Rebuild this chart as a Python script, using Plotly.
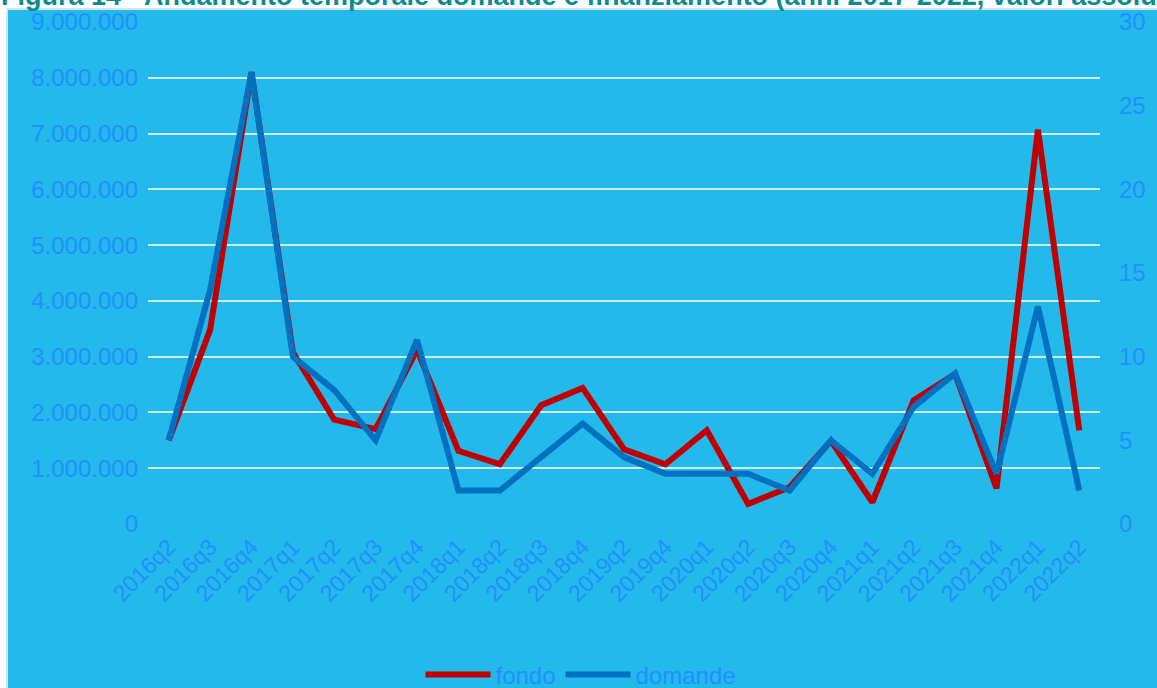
import plotly.graph_objects as go

# Quarterly periods
quarters = ["2016q2", "2016q3", "2016q4", "2017q1", "2017q2", "2017q3", "2017q4",
            "2018q1", "2018q2", "2018q3", "2018q4", "2019q2", "2019q4", "2020q1",
            "2020q2", "2020q3", "2020q4", "2021q1", "2021q2", "2021q3", "2021q4",
            "2022q1", "2022q2"]

# Funding granted (euro, left axis)
fondo = [1500000, 3480000, 8100000, 3080000, 1870000, 1700000, 3120000,
         1310000, 1070000, 2130000, 2440000, 1340000, 1070000, 1680000,
         360000, 660000, 1490000, 390000, 2220000, 2690000, 640000,
         7070000, 1680000]

# Number of applications (right axis)
domande = [5, 14, 27, 10, 8, 5, 11, 2, 2, 4, 6, 4, 3, 3, 3, 2, 5, 3, 7, 9, 3, 13, 2]

left_ticks = list(range(0, 9000001, 1000000))
right_ticks = [0, 5, 10, 15, 20, 25, 30]

title_text = ("Figura 14 - Andamento temporale domande e finanziamento "
              "(anni 2017-2022, valori assoluti)")

BG = "#23B9EB"
TICK = "#1E90FF"
GRID = "#CDEEFB"
FONT = "Liberation Sans, Arial, sans-serif"

fig = go.Figure()
fig.add_trace(go.Scatter(x=quarters, y=fondo, name="fondo", mode="lines",
                         line=dict(color="#C00000", width=6),
                         yaxis="y"))
fig.add_trace(go.Scatter(x=quarters, y=domande, name="domande", mode="lines",
                         line=dict(color="#0070C0", width=6),
                         yaxis="y2"))

# Plot area: x 148..1100, y 22..524 in a 1157x688 page
L, R, T, B = 148, 57, 22, 164
W, H = 1157 - L - R, 688 - T - B


def px(xp):
    return (xp - L) / W


def py(yp):
    return (688 - B - yp) / H


fig.update_layout(
    width=1157, height=688,
    margin=dict(l=L, r=R, t=T, b=B, autoexpand=False),
    paper_bgcolor=BG, plot_bgcolor=BG,
    separators=",.",
    font=dict(family=FONT, size=24, color=TICK),
    showlegend=True,
    legend=dict(orientation="h", x=px(581), xanchor="center",
                y=py(675), yanchor="middle",
                font=dict(size=24, color=TICK),
                bgcolor="rgba(0,0,0,0)", itemwidth=65),
    xaxis=dict(type="category", range=[-0.5, len(quarters) - 0.5],
               showgrid=False, zeroline=False, showline=False, automargin=False,
               ticks="", tickangle=-45, ticklabelstandoff=4,
               tickfont=dict(size=23, color=TICK)),
    yaxis=dict(range=[0, 9000000], tickvals=left_ticks, tickformat=",d",
               showgrid=True, gridcolor=GRID, gridwidth=2, automargin=False,
               zeroline=False, showline=False, ticks="", ticklabelstandoff=9,
               tickfont=dict(size=24, color=TICK)),
    yaxis2=dict(range=[0, 30], tickvals=right_ticks, overlaying="y", side="right",
                showgrid=False, zeroline=False, showline=False, ticks="",
                automargin=False, ticklabelstandoff=18,
                tickfont=dict(size=24, color=TICK)),
    shapes=[
        # white page margin above and to the left of the coloured panel
        dict(type="rect", xref="paper", yref="paper", layer="below",
             x0=-0.3, x1=1.3, y0=py(9), y1=1.3,
             fillcolor="white", line=dict(width=0)),
        dict(type="rect", xref="paper", yref="paper", layer="below",
             x0=-0.3, x1=px(7), y0=-0.5, y1=1.3,
             fillcolor="white", line=dict(width=0)),
        dict(type="line", xref="paper", yref="paper", layer="below",
             x0=px(7), x1=1.3, y0=py(9), y1=py(9),
             line=dict(color="#CFE6F3", width=2)),
        dict(type="line", xref="paper", yref="paper", layer="below",
             x0=px(7), x1=px(7), y0=-0.5, y1=py(9),
             line=dict(color="#CFE6F3", width=2)),
    ],
    annotations=[
        dict(text="<b>" + title_text + "</b>", xref="paper", yref="paper",
             x=px(-1), y=py(13), xanchor="left", yanchor="bottom",
             showarrow=False, font=dict(size=27, color="#0E8C8C", family=FONT)),
    ],
)

fig.write_html("out.html")
